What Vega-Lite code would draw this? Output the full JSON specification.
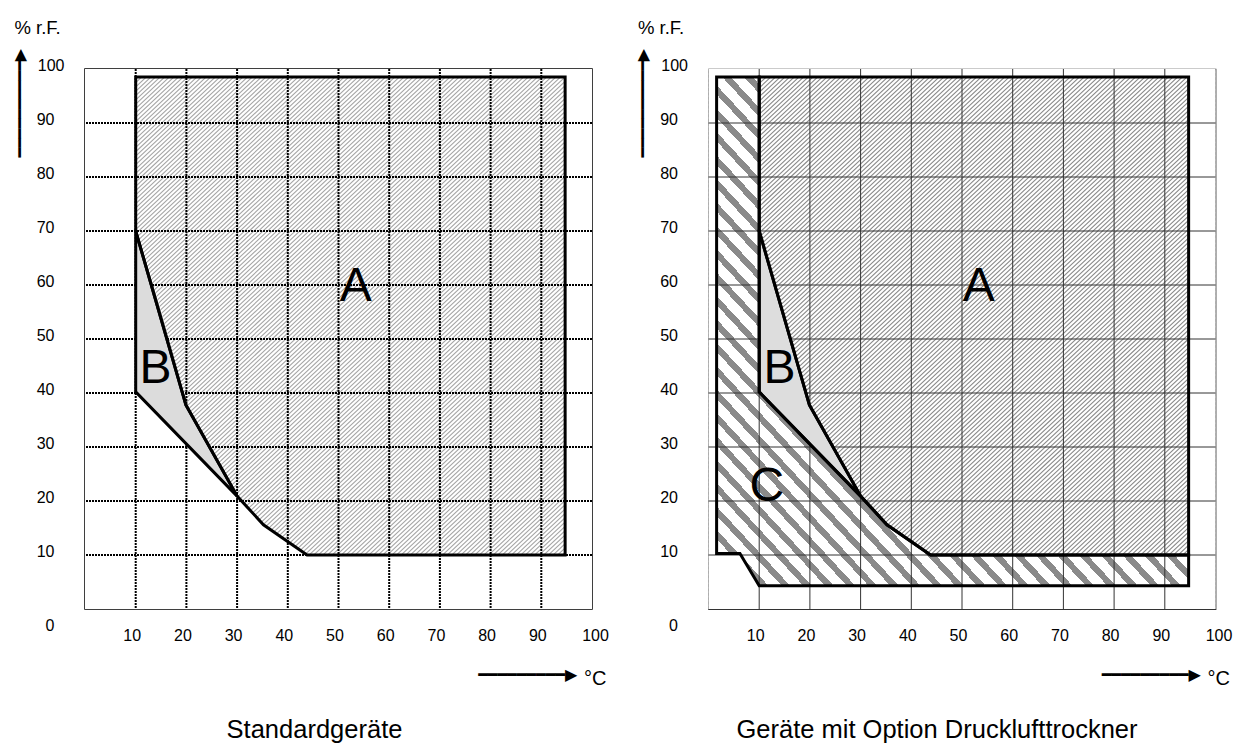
{
  "$schema": "https://vega.github.io/schema/vega-lite/v6.json",
  "background": "white",
  "padding": {"left": 10, "top": 17, "right": 0, "bottom": 0},
  "spacing": 23.5,
  "config": {
    "font": "Liberation Sans",
    "axis": {"labelFont": "Liberation Sans", "labelColor": "black", "titleColor": "black", "titleFontWeight": "normal", "labelFontSize": 16},
    "title": {"font": "Liberation Sans", "fontWeight": "normal", "color": "black", "fontSize": 25.5}
  },
  "datasets": {
    "regions": [
      {"region": "W", "i": 0, "x": 10, "y": 100},
      {"region": "W", "i": 1, "x": 0, "y": 100},
      {"region": "W", "i": 2, "x": 0, "y": 0},
      {"region": "W", "i": 3, "x": 100, "y": 0},
      {"region": "W", "i": 4, "x": 100, "y": 100},
      {"region": "W", "i": 5, "x": 10, "y": 100},
      {"region": "W", "i": 6, "x": 10, "y": 98.5},
      {"region": "W", "i": 7, "x": 94.7, "y": 98.5},
      {"region": "W", "i": 8, "x": 94.7, "y": 10},
      {"region": "W", "i": 9, "x": 43.8, "y": 10},
      {"region": "W", "i": 10, "x": 35.2, "y": 15.6},
      {"region": "W", "i": 11, "x": 30, "y": 20.9},
      {"region": "W", "i": 12, "x": 19.9, "y": 37.8},
      {"region": "W", "i": 13, "x": 10, "y": 70},
      {"region": "W", "i": 14, "x": 10, "y": 98.5},
      {"region": "W", "i": 15, "x": 10, "y": 100},
      {"region": "A", "i": 0, "x": 10, "y": 98.5},
      {"region": "A", "i": 1, "x": 94.7, "y": 98.5},
      {"region": "A", "i": 2, "x": 94.7, "y": 10},
      {"region": "A", "i": 3, "x": 43.8, "y": 10},
      {"region": "A", "i": 4, "x": 35.2, "y": 15.6},
      {"region": "A", "i": 5, "x": 30, "y": 20.9},
      {"region": "A", "i": 6, "x": 19.9, "y": 37.8},
      {"region": "A", "i": 7, "x": 10, "y": 70},
      {"region": "A", "i": 8, "x": 10, "y": 98.5},
      {"region": "B", "i": 0, "x": 10, "y": 70},
      {"region": "B", "i": 1, "x": 19.9, "y": 37.8},
      {"region": "B", "i": 2, "x": 30, "y": 20.9},
      {"region": "B", "i": 3, "x": 10, "y": 40.2},
      {"region": "B", "i": 4, "x": 10, "y": 70},
      {"region": "C", "i": 0, "x": 1.6, "y": 98.5},
      {"region": "C", "i": 1, "x": 1.6, "y": 10.3},
      {"region": "C", "i": 2, "x": 6.2, "y": 10.3},
      {"region": "C", "i": 3, "x": 10, "y": 4.3},
      {"region": "C", "i": 4, "x": 94.7, "y": 4.3},
      {"region": "C", "i": 5, "x": 94.7, "y": 10},
      {"region": "C", "i": 6, "x": 43.8, "y": 10},
      {"region": "C", "i": 7, "x": 35.2, "y": 15.6},
      {"region": "C", "i": 8, "x": 30, "y": 20.9},
      {"region": "C", "i": 9, "x": 10, "y": 40.2},
      {"region": "C", "i": 10, "x": 10, "y": 98.5},
      {"region": "C", "i": 11, "x": 1.6, "y": 98.5}
    ],
    "grid": [{"v": 10}, {"v": 20}, {"v": 30}, {"v": 40}, {"v": 50}, {"v": 60}, {"v": 70}, {"v": 80}, {"v": 90}],
    "labels": [
      {"panel": "L", "label": "A", "x": 53.4, "y": 59.6},
      {"panel": "L", "label": "B", "x": 13.9, "y": 44.4},
      {"panel": "R", "label": "A", "x": 53.3, "y": 59.6},
      {"panel": "R", "label": "B", "x": 14, "y": 44.4},
      {"panel": "R", "label": "C", "x": 11.5, "y": 22.6}
    ]
  },
  "hconcat": [
    {
      "width": 507,
      "height": 540,
      "view": {"stroke": "black", "strokeWidth": 1.5},
      "title": {"text": "Standardgeräte", "orient": "bottom", "anchor": "middle", "frame": "group", "offset": 30, "dx": -24},
      "resolve": {"axis": {"x": "independent", "y": "independent"}},
      "layer": [
        {
          "data": {"values": [{}]},
          "mark": {"type": "rule", "clip": true, "color": "#a6a6a6", "strokeWidth": 745, "strokeDash": [1.1, 2.05], "strokeCap": "butt"},
          "encoding": {
            "x": {"datum": 0, "type": "quantitative", "scale": {"domain": [0, 100], "nice": false, "zero": false}, "axis": null},
            "y": {"datum": 100, "type": "quantitative", "scale": {"domain": [0, 100], "nice": false, "zero": false}, "axis": null},
            "x2": {"datum": 100},
            "y2": {"datum": 0}
          }
        },
        {
          "data": {"name": "regions"},
          "transform": [{"filter": "datum.region === 'W'"}],
          "mark": {"type": "line", "fill": "white", "strokeOpacity": 0, "strokeWidth": 0},
          "encoding": {
            "x": {"field": "x", "type": "quantitative", "scale": {"domain": [0, 100], "nice": false, "zero": false}, "axis": null},
            "y": {"field": "y", "type": "quantitative", "scale": {"domain": [0, 100], "nice": false, "zero": false}, "axis": null},
            "order": {"field": "i", "type": "quantitative"}
          }
        },
        {
          "data": {"name": "grid"},
          "mark": {"type": "rule", "color": "black", "strokeWidth": 2, "strokeDash": [2, 1]},
          "encoding": {
            "x": {"field": "v", "type": "quantitative", "scale": {"domain": [0, 100], "nice": false, "zero": false},
              "axis": {"orient": "bottom", "values": [10, 20, 30, 40, 50, 60, 70, 80, 90, 100], "format": "d",
                "title": "━━━━━━━━━▶", "titleFont": "DejaVu Sans", "titleFontSize": 16, "titleAlign": "left", "titleBaseline": "middle", "titleX": 392.7, "titleY": 65,
                "labelFontSize": 16, "labelPadding": 18, "labelOffset": {"condition": {"test": "datum.value == 100", "value": 3}, "value": -4},
                "labelFlush": false, "labelOverlap": false, "ticks": false, "tickSize": 0, "domain": false, "grid": false}}
          }
        },
        {
          "data": {"name": "grid"},
          "mark": {"type": "rule", "color": "black", "strokeWidth": 2, "strokeDash": [2, 1]},
          "encoding": {
            "y": {"field": "v", "type": "quantitative", "scale": {"domain": [0, 100], "nice": false, "zero": false},
              "axis": {"orient": "left", "values": [0, 10, 20, 30, 40, 50, 60, 70, 80, 90, 100], "format": "d",
                "title": "% r.F.", "titleFont": "Liberation Sans", "titleFontSize": 18.5, "titleAngle": 0, "titleAlign": "left", "titleBaseline": "alphabetic", "titleX": -71, "titleY": -36,
                "labelFontSize": 16, "labelPadding": {"condition": {"test": "datum.value == 100", "value": 21}, "value": 31},
                "labelOffset": {"condition": {"test": "datum.value == 0", "value": 16}, "value": -3.5},
                "labelFlush": false, "labelOverlap": false, "ticks": false, "tickSize": 0, "domain": false, "grid": false}}
          }
        },
        {
          "data": {"name": "regions"},
          "transform": [{"filter": "datum.region === 'B'"}],
          "mark": {"type": "line", "fill": "#dcdcdc", "strokeOpacity": 0, "strokeWidth": 0},
          "encoding": {
            "x": {"field": "x", "type": "quantitative", "scale": {"domain": [0, 100], "nice": false, "zero": false}, "axis": null},
            "y": {"field": "y", "type": "quantitative", "scale": {"domain": [0, 100], "nice": false, "zero": false}, "axis": null},
            "order": {"field": "i", "type": "quantitative"}
          }
        },
        {
          "data": {"name": "regions"},
          "transform": [{"filter": "datum.region === 'A' || datum.region === 'B'"}],
          "mark": {"type": "line", "color": "black", "strokeWidth": 3, "strokeJoin": "miter", "strokeCap": "square"},
          "encoding": {
            "x": {"field": "x", "type": "quantitative", "scale": {"domain": [0, 100], "nice": false, "zero": false}, "axis": null},
            "y": {"field": "y", "type": "quantitative", "scale": {"domain": [0, 100], "nice": false, "zero": false}, "axis": null},
            "detail": {"field": "region"},
            "order": {"field": "i", "type": "quantitative"}
          }
        },
        {
          "data": {"name": "labels"},
          "transform": [{"filter": "datum.panel === 'L'"}],
          "mark": {"type": "text", "font": "Liberation Sans", "fontSize": 48, "align": "center", "baseline": "middle", "color": "black"},
          "encoding": {
            "x": {"field": "x", "type": "quantitative", "scale": {"domain": [0, 100], "nice": false, "zero": false},
              "axis": {"orient": "bottom", "title": "°C", "titleFont": "Liberation Sans", "titleFontSize": 20, "titleAlign": "left", "titleBaseline": "alphabetic", "titleX": 498.4, "titleY": 75.4,
                "labels": false, "ticks": false, "domain": false, "grid": false}},
            "y": {"field": "y", "type": "quantitative", "scale": {"domain": [0, 100], "nice": false, "zero": false},
              "axis": {"orient": "left", "title": "━━━━━━━━━━▶", "titleFont": "DejaVu Sans", "titleFontSize": 16, "titleAngle": -90, "titleAlign": "left", "titleBaseline": "middle", "titleX": -66, "titleY": 88,
                "labels": false, "ticks": false, "domain": false, "grid": false}},
            "text": {"field": "label"}
          }
        }
      ]
    },
    {
      "width": 507,
      "height": 540,
      "view": {"stroke": "#333333", "strokeWidth": 1.2},
      "title": {"text": "Geräte mit Option Drucklufttrockner", "orient": "bottom", "anchor": "middle", "frame": "group", "offset": 30, "dx": -25},
      "resolve": {"axis": {"x": "independent", "y": "independent"}},
      "layer": [
        {
          "data": {"values": [{}]},
          "mark": {"type": "rule", "clip": true, "color": "#8a8a8a", "strokeWidth": 745, "strokeDash": [1.1, 2.1], "strokeCap": "butt"},
          "encoding": {
            "x": {"datum": 0, "type": "quantitative", "scale": {"domain": [0, 100], "nice": false, "zero": false}, "axis": null},
            "y": {"datum": 100, "type": "quantitative", "scale": {"domain": [0, 100], "nice": false, "zero": false}, "axis": null},
            "x2": {"datum": 100},
            "y2": {"datum": 0}
          }
        },
        {
          "data": {"name": "regions"},
          "transform": [{"filter": "datum.region === 'W'"}],
          "mark": {"type": "line", "fill": "white", "strokeOpacity": 0, "strokeWidth": 0},
          "encoding": {
            "x": {"field": "x", "type": "quantitative", "scale": {"domain": [0, 100], "nice": false, "zero": false}, "axis": null},
            "y": {"field": "y", "type": "quantitative", "scale": {"domain": [0, 100], "nice": false, "zero": false}, "axis": null},
            "order": {"field": "i", "type": "quantitative"}
          }
        },
        {
          "data": {"name": "regions"},
          "transform": [{"filter": "datum.region === 'C'"}],
          "mark": {"type": "line", "strokeOpacity": 0, "strokeWidth": 0,
            "fill": {"gradient": "linear", "x1": 0, "y1": 1, "x2": 1, "y2": 0, "stops": [
              {"offset": 0, "color": "#8a8a8a"}, {"offset": 0.009, "color": "#8a8a8a"}, {"offset": 0.009, "color": "#ffffff"}, {"offset": 0.023, "color": "#ffffff"},
              {"offset": 0.023, "color": "#8a8a8a"}, {"offset": 0.032, "color": "#8a8a8a"}, {"offset": 0.032, "color": "#ffffff"}, {"offset": 0.046, "color": "#ffffff"},
              {"offset": 0.046, "color": "#8a8a8a"}, {"offset": 0.055, "color": "#8a8a8a"}, {"offset": 0.055, "color": "#ffffff"}, {"offset": 0.069, "color": "#ffffff"},
              {"offset": 0.069, "color": "#8a8a8a"}, {"offset": 0.078, "color": "#8a8a8a"}, {"offset": 0.078, "color": "#ffffff"}, {"offset": 0.092, "color": "#ffffff"},
              {"offset": 0.092, "color": "#8a8a8a"}, {"offset": 0.101, "color": "#8a8a8a"}, {"offset": 0.101, "color": "#ffffff"}, {"offset": 0.115, "color": "#ffffff"},
              {"offset": 0.115, "color": "#8a8a8a"}, {"offset": 0.124, "color": "#8a8a8a"}, {"offset": 0.124, "color": "#ffffff"}, {"offset": 0.138, "color": "#ffffff"},
              {"offset": 0.138, "color": "#8a8a8a"}, {"offset": 0.147, "color": "#8a8a8a"}, {"offset": 0.147, "color": "#ffffff"}, {"offset": 0.161, "color": "#ffffff"},
              {"offset": 0.161, "color": "#8a8a8a"}, {"offset": 0.17, "color": "#8a8a8a"}, {"offset": 0.17, "color": "#ffffff"}, {"offset": 0.184, "color": "#ffffff"},
              {"offset": 0.184, "color": "#8a8a8a"}, {"offset": 0.193, "color": "#8a8a8a"}, {"offset": 0.193, "color": "#ffffff"}, {"offset": 0.207, "color": "#ffffff"},
              {"offset": 0.207, "color": "#8a8a8a"}, {"offset": 0.216, "color": "#8a8a8a"}, {"offset": 0.216, "color": "#ffffff"}, {"offset": 0.23, "color": "#ffffff"},
              {"offset": 0.23, "color": "#8a8a8a"}, {"offset": 0.239, "color": "#8a8a8a"}, {"offset": 0.239, "color": "#ffffff"}, {"offset": 0.253, "color": "#ffffff"},
              {"offset": 0.253, "color": "#8a8a8a"}, {"offset": 0.262, "color": "#8a8a8a"}, {"offset": 0.262, "color": "#ffffff"}, {"offset": 0.276, "color": "#ffffff"},
              {"offset": 0.276, "color": "#8a8a8a"}, {"offset": 0.285, "color": "#8a8a8a"}, {"offset": 0.285, "color": "#ffffff"}, {"offset": 0.299, "color": "#ffffff"},
              {"offset": 0.299, "color": "#8a8a8a"}, {"offset": 0.308, "color": "#8a8a8a"}, {"offset": 0.308, "color": "#ffffff"}, {"offset": 0.322, "color": "#ffffff"},
              {"offset": 0.322, "color": "#8a8a8a"}, {"offset": 0.331, "color": "#8a8a8a"}, {"offset": 0.331, "color": "#ffffff"}, {"offset": 0.345, "color": "#ffffff"},
              {"offset": 0.345, "color": "#8a8a8a"}, {"offset": 0.354, "color": "#8a8a8a"}, {"offset": 0.354, "color": "#ffffff"}, {"offset": 0.368, "color": "#ffffff"},
              {"offset": 0.368, "color": "#8a8a8a"}, {"offset": 0.377, "color": "#8a8a8a"}, {"offset": 0.377, "color": "#ffffff"}, {"offset": 0.391, "color": "#ffffff"},
              {"offset": 0.391, "color": "#8a8a8a"}, {"offset": 0.4, "color": "#8a8a8a"}, {"offset": 0.4, "color": "#ffffff"}, {"offset": 0.414, "color": "#ffffff"},
              {"offset": 0.414, "color": "#8a8a8a"}, {"offset": 0.423, "color": "#8a8a8a"}, {"offset": 0.423, "color": "#ffffff"}, {"offset": 0.437, "color": "#ffffff"},
              {"offset": 0.437, "color": "#8a8a8a"}, {"offset": 0.446, "color": "#8a8a8a"}, {"offset": 0.446, "color": "#ffffff"}, {"offset": 0.46, "color": "#ffffff"},
              {"offset": 0.46, "color": "#8a8a8a"}, {"offset": 0.469, "color": "#8a8a8a"}, {"offset": 0.469, "color": "#ffffff"}, {"offset": 0.483, "color": "#ffffff"},
              {"offset": 0.483, "color": "#8a8a8a"}, {"offset": 0.492, "color": "#8a8a8a"}, {"offset": 0.492, "color": "#ffffff"}, {"offset": 0.506, "color": "#ffffff"},
              {"offset": 0.506, "color": "#8a8a8a"}, {"offset": 0.515, "color": "#8a8a8a"}, {"offset": 0.515, "color": "#ffffff"}, {"offset": 0.529, "color": "#ffffff"},
              {"offset": 0.529, "color": "#8a8a8a"}, {"offset": 0.538, "color": "#8a8a8a"}, {"offset": 0.538, "color": "#ffffff"}, {"offset": 0.552, "color": "#ffffff"},
              {"offset": 0.552, "color": "#8a8a8a"}, {"offset": 0.561, "color": "#8a8a8a"}, {"offset": 0.561, "color": "#ffffff"}, {"offset": 0.575, "color": "#ffffff"},
              {"offset": 0.575, "color": "#8a8a8a"}, {"offset": 0.584, "color": "#8a8a8a"}, {"offset": 0.584, "color": "#ffffff"}, {"offset": 1, "color": "#ffffff"}
            ]}},
          "encoding": {
            "x": {"field": "x", "type": "quantitative", "scale": {"domain": [0, 100], "nice": false, "zero": false}, "axis": null},
            "y": {"field": "y", "type": "quantitative", "scale": {"domain": [0, 100], "nice": false, "zero": false}, "axis": null},
            "order": {"field": "i", "type": "quantitative"}
          }
        },
        {
          "data": {"name": "grid"},
          "mark": {"type": "rule", "color": "#333333", "strokeWidth": 1},
          "encoding": {
            "x": {"field": "v", "type": "quantitative", "scale": {"domain": [0, 100], "nice": false, "zero": false},
              "axis": {"orient": "bottom", "values": [10, 20, 30, 40, 50, 60, 70, 80, 90, 100], "format": "d",
                "title": "━━━━━━━━━▶", "titleFont": "DejaVu Sans", "titleFontSize": 16, "titleAlign": "left", "titleBaseline": "middle", "titleX": 392.7, "titleY": 65,
                "labelFontSize": 16, "labelPadding": 18, "labelOffset": {"condition": {"test": "datum.value == 100", "value": 3}, "value": -4},
                "labelFlush": false, "labelOverlap": false, "ticks": false, "tickSize": 0, "domain": false, "grid": false}}
          }
        },
        {
          "data": {"name": "grid"},
          "mark": {"type": "rule", "color": "#333333", "strokeWidth": 1},
          "encoding": {
            "y": {"field": "v", "type": "quantitative", "scale": {"domain": [0, 100], "nice": false, "zero": false},
              "axis": {"orient": "left", "values": [0, 10, 20, 30, 40, 50, 60, 70, 80, 90, 100], "format": "d",
                "title": "% r.F.", "titleFont": "Liberation Sans", "titleFontSize": 18.5, "titleAngle": 0, "titleAlign": "left", "titleBaseline": "alphabetic", "titleX": -71, "titleY": -36,
                "labelFontSize": 16, "labelPadding": {"condition": {"test": "datum.value == 100", "value": 21}, "value": 31},
                "labelOffset": {"condition": {"test": "datum.value == 0", "value": 16}, "value": -3.5},
                "labelFlush": false, "labelOverlap": false, "ticks": false, "tickSize": 0, "domain": false, "grid": false}}
          }
        },
        {
          "data": {"name": "regions"},
          "transform": [{"filter": "datum.region === 'B'"}],
          "mark": {"type": "line", "fill": "#dddddd", "strokeOpacity": 0, "strokeWidth": 0},
          "encoding": {
            "x": {"field": "x", "type": "quantitative", "scale": {"domain": [0, 100], "nice": false, "zero": false}, "axis": null},
            "y": {"field": "y", "type": "quantitative", "scale": {"domain": [0, 100], "nice": false, "zero": false}, "axis": null},
            "order": {"field": "i", "type": "quantitative"}
          }
        },
        {
          "data": {"name": "regions"},
          "transform": [{"filter": "datum.region !== 'W'"}],
          "mark": {"type": "line", "color": "black", "strokeWidth": 3, "strokeJoin": "miter", "strokeCap": "square"},
          "encoding": {
            "x": {"field": "x", "type": "quantitative", "scale": {"domain": [0, 100], "nice": false, "zero": false}, "axis": null},
            "y": {"field": "y", "type": "quantitative", "scale": {"domain": [0, 100], "nice": false, "zero": false}, "axis": null},
            "detail": {"field": "region"},
            "order": {"field": "i", "type": "quantitative"}
          }
        },
        {
          "data": {"name": "labels"},
          "transform": [{"filter": "datum.panel === 'R'"}],
          "mark": {"type": "text", "font": "Liberation Sans", "fontSize": 48, "align": "center", "baseline": "middle", "color": "black"},
          "encoding": {
            "x": {"field": "x", "type": "quantitative", "scale": {"domain": [0, 100], "nice": false, "zero": false},
              "axis": {"orient": "bottom", "title": "°C", "titleFont": "Liberation Sans", "titleFontSize": 20, "titleAlign": "left", "titleBaseline": "alphabetic", "titleX": 498.4, "titleY": 75.4,
                "labels": false, "ticks": false, "domain": false, "grid": false}},
            "y": {"field": "y", "type": "quantitative", "scale": {"domain": [0, 100], "nice": false, "zero": false},
              "axis": {"orient": "left", "title": "━━━━━━━━━━▶", "titleFont": "DejaVu Sans", "titleFontSize": 16, "titleAngle": -90, "titleAlign": "left", "titleBaseline": "middle", "titleX": -66, "titleY": 88,
                "labels": false, "ticks": false, "domain": false, "grid": false}},
            "text": {"field": "label"}
          }
        }
      ]
    }
  ]
}
